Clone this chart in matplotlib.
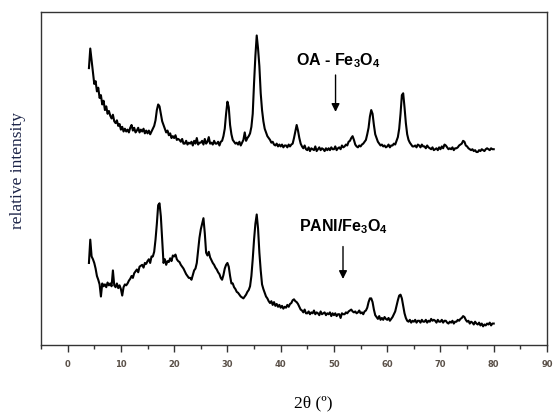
import numpy as np
import matplotlib
matplotlib.use("Agg")
import matplotlib.pyplot as plt

# 2-theta grid (degrees), 0.25 deg steps from 4 to 80
two_theta = np.arange(4.0, 80.001, 0.25)

# OA-Fe3O4 pattern (relative intensity, 4 samples per degree)
oa_fe3o4 = [
    297, 318, 305, 292,   # 4
    280, 283, 272, 276,   # 5
    265, 268, 258, 262,   # 6
    252, 256, 248, 251,   # 7
    246, 243, 247, 240,   # 8
    238, 241, 235, 237,   # 9
    231, 234, 229, 232,   # 10
    229, 231, 228, 233,   # 11
    236, 230, 233, 228,   # 12
    230, 233, 228, 231,   # 13
    229, 232, 227, 230,   # 14
    227, 230, 226, 229,   # 15
    232, 235, 241, 252,   # 16
    258, 256, 248, 240,   # 17
    236, 232, 228, 230,   # 18
    225, 227, 222, 224,   # 19
    222, 225, 220, 221,   # 20
    220, 218, 221, 216,   # 21
    216, 219, 215, 217,   # 22
    216, 218, 214, 219,   # 23
    216, 222, 215, 217,   # 24
    217, 219, 215, 221,   # 25
    216, 218, 223, 216,   # 26
    217, 215, 219, 216,   # 27
    216, 218, 214, 218,   # 28
    219, 224, 232, 248,   # 29
    261, 255, 236, 226,   # 30
    220, 218, 216, 217,   # 31
    215, 218, 214, 217,   # 32
    220, 228, 219, 222,   # 33
    224, 227, 234, 248,   # 34
    281, 310, 332, 318,   # 35
    299, 270, 252, 240,   # 36
    232, 228, 224, 222,   # 37
    220, 217, 218, 215,   # 38
    214, 216, 213, 215,   # 39
    213, 215, 212, 214,   # 40
    214, 212, 215, 213,   # 41
    215, 216, 222, 229,   # 42
    236, 230, 222, 216,   # 43
    213, 211, 214, 210,   # 44
    209, 212, 208, 211,   # 45
    210, 209, 213, 208,   # 46
    210, 212, 209, 211,   # 47
    210, 208, 211, 209,   # 48
    211, 209, 212, 210,   # 49
    210, 213, 209, 211,   # 50
    212, 210, 214, 212,   # 51
    213, 215, 214, 218,   # 52
    219, 222, 224, 220,   # 53
    215, 213, 212, 214,   # 54
    213, 215, 216, 218,   # 55
    220, 226, 233, 245,   # 56
    252, 248, 236, 226,   # 57
    222, 218, 216, 214,   # 58
    215, 213, 214, 212,   # 59
    213, 215, 212, 214,   # 60
    214, 216, 215, 219,   # 61
    223, 232, 248, 268,   # 62
    270, 255, 238, 226,   # 63
    220, 217, 215, 213,   # 64
    213, 214, 212, 215,   # 65
    214, 212, 215, 213,   # 66
    213, 211, 214, 212,   # 67
    211, 210, 212, 209,   # 68
    210, 211, 209, 212,   # 69
    210, 213, 211, 215,   # 70
    214, 212, 210, 211,   # 71
    210, 212, 209, 211,   # 72
    211, 212, 214, 215,   # 73
    216, 219, 218, 214,   # 74
    213, 211, 210, 209,   # 75
    210, 208, 209, 207,   # 76
    207, 209, 208, 210,   # 77
    209, 208, 210, 211,   # 78
    210, 209, 211, 210,   # 79
    210,                  # 80
]

# PANI/Fe3O4 pattern
pani_fe3o4 = [
    88, 113, 95, 92,      # 4
    88, 82, 74, 70,       # 5
    65, 52, 66, 63,       # 6
    65, 62, 67, 64,       # 7
    66, 63, 80, 64,       # 8
    62, 66, 61, 64,       # 9
    60, 53, 62, 65,       # 10
    64, 66, 69, 71,       # 11
    74, 72, 77, 79,       # 12
    81, 78, 84, 85,       # 13
    86, 83, 88, 87,       # 14
    90, 92, 88, 95,       # 15
    95, 100, 113, 130,    # 16
    150, 152, 138, 112,   # 17
    88, 92, 86, 90,       # 18
    89, 93, 90, 96,       # 19
    95, 97, 92, 90,       # 20
    89, 86, 84, 82,       # 21
    79, 76, 74, 72,       # 22
    72, 70, 75, 80,       # 23
    82, 88, 102, 115,     # 24
    124, 130, 136, 120,   # 25
    99, 96, 100, 94,      # 26
    91, 88, 86, 83,       # 27
    81, 78, 76, 72,       # 28
    70, 75, 82, 86,       # 29
    88, 84, 74, 66,       # 30
    66, 62, 60, 57,       # 31
    56, 54, 52, 51,       # 32
    50, 52, 54, 57,       # 33
    59, 63, 74, 92,       # 34
    113, 130, 140, 125,   # 35
    99, 80, 65, 60,       # 36
    56, 52, 50, 47,       # 37
    45, 47, 43, 46,       # 38
    42, 44, 41, 43,       # 39
    40, 42, 39, 41,       # 40
    40, 43, 41, 44,       # 41
    45, 48, 49, 47,       # 42
    46, 44, 41, 38,       # 43
    37, 35, 38, 34,       # 44
    34, 36, 33, 35,       # 45
    34, 37, 33, 35,       # 46
    34, 32, 36, 33,       # 47
    34, 35, 32, 34,       # 48
    33, 35, 31, 34,       # 49
    32, 34, 31, 33,       # 50
    33, 29, 34, 33,       # 51
    33, 35, 34, 36,       # 52
    37, 38, 36, 35,       # 53
    36, 34, 35, 37,       # 54
    34, 35, 33, 36,       # 55
    37, 40, 46, 50,       # 56
    50, 46, 38, 32,       # 57
    30, 28, 31, 27,       # 58
    29, 27, 30, 28,       # 59
    27, 29, 26, 28,       # 60
    30, 33, 36, 42,       # 61
    48, 53, 54, 50,       # 62
    42, 34, 29, 26,       # 63
    25, 27, 24, 26,       # 64
    25, 27, 24, 26,       # 65
    26, 24, 27, 25,       # 66
    25, 27, 24, 26,       # 67
    25, 28, 26, 27,       # 68
    26, 24, 27, 25,       # 69
    25, 27, 24, 26,       # 70
    26, 24, 23, 25,       # 71
    24, 26, 23, 25,       # 72
    25, 27, 26, 28,       # 73
    29, 31, 30, 27,       # 74
    25, 26, 23, 25,       # 75
    24, 22, 25, 23,       # 76
    22, 24, 21, 23,       # 77
    20, 22, 21, 23,       # 78
    22, 24, 21, 23,       # 79
    23,                   # 80
]

x_ticks = [0, 10, 20, 30, 40, 50, 60, 70, 80, 90]
label_oa = r"OA - Fe$_\mathbf{3}$O$_\mathbf{4}$"
label_pani = r"PANI/Fe$_\mathbf{3}$O$_\mathbf{4}$"

plt.rcParams['mathtext.fontset'] = 'custom'
plt.rcParams['mathtext.rm'] = 'Liberation Sans:bold'
plt.rcParams['mathtext.bf'] = 'Liberation Sans:bold'
plt.rcParams['mathtext.it'] = 'Liberation Sans:bold'

fig = plt.figure(figsize=(5.6, 4.12), dpi=100)
ax = fig.add_axes([41/560, 1 - 345/412, (547-41)/560, (345-11.7)/412])

ax.plot(two_theta, oa_fe3o4, color='black', lw=1.5)
ax.plot(two_theta, pani_fe3o4, color='black', lw=1.5)

ax.set_xlim(-5, 90)
ax.set_ylim(0, 357.5)
ax.set_yticks([])
ax.set_xticks(x_ticks)
ax.set_xticks(np.arange(-5, 91, 10), minor=True)
ax.tick_params(axis='x', which='major', direction='out', length=5, width=1,
               color='#333333', labelsize=6, labelcolor='#5a5048', pad=6)
ax.tick_params(axis='x', which='minor', direction='out', length=3, width=1,
               color='#333333')
for lab in ax.get_xticklabels():
    lab.set_fontweight('bold')
for sp in ax.spines.values():
    sp.set_color('#333333')
    sp.set_linewidth(1.0)

ax.text(42.8, 300.3, label_oa, fontsize=11.5, fontweight='bold',
        family='Liberation Sans', ha='left', va='baseline')
ax.annotate('', xy=(50.3, 250), xytext=(50.3, 289.6),
            arrowprops=dict(arrowstyle='-|>', color='black', lw=1.0,
                            mutation_scale=12, shrinkA=0, shrinkB=0))
ax.text(43.4, 121.5, label_pani, fontsize=11.5, fontweight='bold',
        family='Liberation Sans', ha='left', va='baseline')
ax.annotate('', xy=(51.7, 70.8), xytext=(51.7, 105.6),
            arrowprops=dict(arrowstyle='-|>', color='black', lw=1.0,
                            mutation_scale=12, shrinkA=0, shrinkB=0))

fig.text(313/560, 1 - 403/412, "2θ (º)", family='Liberation Serif',
         fontsize=12.5, ha='center', va='center', color='black')
fig.text(18/560, 1 - 171/412, "relative intensity", family='Liberation Serif',
         fontsize=12.5, ha='center', va='center', rotation=90, color='#1c2448')

fig.savefig('out.png', dpi=100)
